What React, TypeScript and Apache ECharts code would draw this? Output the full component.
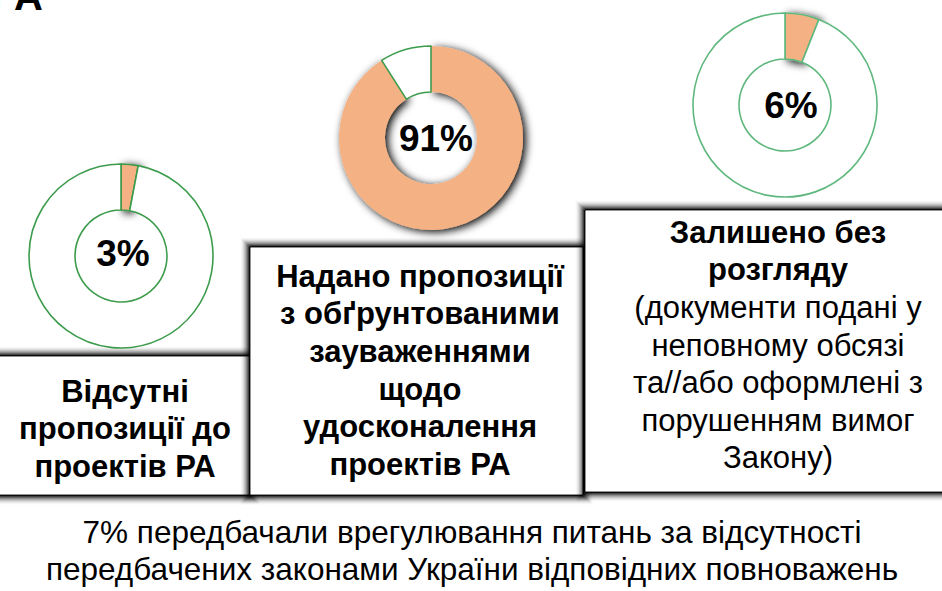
import React, { useEffect, useRef } from "react";
import * as echarts from "echarts";

// ---- data ----
const shares = [3, 91, 6];
const sliceColor = "#f4b183";
const restColor = "#ffffff";
const ringLineColors = ["#3c9c4c", "#3c9c4c", "#5fb87e"];
const titleLines = [
  ["Відсутні", "пропозиції до", "проектів РА"],
  ["Надано пропозиції", "з обґрунтованими", "зауваженнями", "щодо", "удосконалення", "проектів РА"],
  ["Залишено без", "розгляду"],
];
const noteLines = [
  [],
  [],
  ["(документи подані у", "неповному обсязі", "та//або оформлені з", "порушенням вимог", "Закону)"],
];
const footnoteLines = [
  "7% передбачали врегулювання питань за відсутності",
  "передбачених законами України відповідних повноважень",
];
const headerFragment = "РА";

// ---- layout ----
const FONT = "'Liberation Sans', Arial, sans-serif";
const donutCenters = [
  [121, 256],
  [431, 138],
  [785, 105],
];
const labelCenters = [
  [123, 253],
  [436, 138],
  [791, 105],
];
const ringRadius = [46, 92];
const boxes = [
  { x: -30, y: 356, w: 280, h: 139 },
  { x: 250, y: 247, w: 333, h: 248 },
  { x: 585, y: 210, w: 400, h: 282 },
];
const textCenterX = [125, 420, 778];
const firstBaseline = [402, 287, 243];
const LINE_H = 37.6;
const BOX_FONT = 31;
const CENTRAL = 0.3465;
const SHADOW_STEPS = 10;

export default function App() {
  const ref = useRef<HTMLDivElement>(null);

  useEffect(() => {
    if (!ref.current) return;
    const chart = echarts.init(ref.current, undefined, { renderer: "svg" });

    const series: any[] = shares.map((v, i) => {
      const line = ringLineColors[i];
      const bordered = i !== 1;
      return {
        type: "pie",
        center: donutCenters[i],
        radius: ringRadius,
        startAngle: 90,
        clockwise: true,
        silent: true,
        label: { show: false },
        labelLine: { show: false },
        z: 3,
        data: [
          {
            value: v,
            itemStyle: {
              color: sliceColor,
              borderColor: bordered ? line : sliceColor,
              borderWidth: bordered ? 1.6 : 0,
              shadowBlur: 8,
              shadowColor: "rgba(0,0,0,1)",
              shadowOffsetX: 3,
              shadowOffsetY: 2,
            },
          },
          {
            value: 100 - v,
            itemStyle: { color: restColor, borderColor: line, borderWidth: 1.6 },
          },
        ],
      };
    });

    const graphics: any[] = [];

    // header fragment
    graphics.push({
      type: "text",
      x: 43,
      y: 10 - CENTRAL * 40,
      z: 10,
      style: {
        text: headerFragment,
        font: `bold 40px ${FONT}`,
        fill: "#000",
        align: "right",
        verticalAlign: "middle",
      },
    });

    boxes.forEach((b, i) => {
      // layered soft shadow around the box
      for (let k = SHADOW_STEPS; k >= 1; k--) {
        const a = 0.92 * Math.pow(1 - (k - 1) / SHADOW_STEPS, 2);
        graphics.push({
          type: "rect",
          z: 1 + i,
          shape: {
            x: b.x - k + 0.5,
            y: b.y - k + 0.5,
            width: b.w + 2 * k - 1,
            height: b.h + 2 * k - 1,
          },
          style: { fill: "none", stroke: `rgba(0,0,0,${a.toFixed(3)})`, lineWidth: 1 },
        });
      }
      graphics.push({
        type: "rect",
        z: 1 + i,
        shape: { x: b.x, y: b.y, width: b.w, height: b.h },
        style: { fill: "#fff", stroke: "rgba(0,0,0,0.85)", lineWidth: 1 },
      });
      const lines = [
        ...titleLines[i].map((t) => ({ t, bold: true })),
        ...noteLines[i].map((t) => ({ t, bold: false })),
      ];
      lines.forEach((ln, k) => {
        graphics.push({
          type: "text",
          z: 10,
          x: textCenterX[i],
          y: firstBaseline[i] + k * LINE_H - CENTRAL * BOX_FONT,
          style: {
            text: ln.t,
            font: `${ln.bold ? "bold " : ""}${BOX_FONT}px ${FONT}`,
            fill: "#000",
            align: "center",
            verticalAlign: "middle",
          },
        });
      });
    });

    // percentage labels
    shares.forEach((v, i) => {
      graphics.push({
        type: "text",
        z: 20,
        x: labelCenters[i][0],
        y: labelCenters[i][1],
        style: {
          text: `${v}%`,
          font: `bold 37px ${FONT}`,
          fill: "#000",
          align: "center",
          verticalAlign: "middle",
        },
      });
    });

    // footnote
    const footBase = [543, 580];
    footnoteLines.forEach((t, k) => {
      graphics.push({
        type: "text",
        z: 10,
        x: 472,
        y: footBase[k] - CENTRAL * 31.5,
        style: {
          text: t,
          font: `31.5px ${FONT}`,
          fill: "#000",
          align: "center",
          verticalAlign: "middle",
        },
      });
    });

    chart.setOption({
      animation: false,
      backgroundColor: "#fff",
      series,
      graphic: { elements: graphics },
    });

    return () => chart.dispose();
  }, []);

  return (
    <div
      ref={ref}
      style={{ width: 942, height: 591, position: "fixed", left: 0, top: 0 }}
    />
  );
}
